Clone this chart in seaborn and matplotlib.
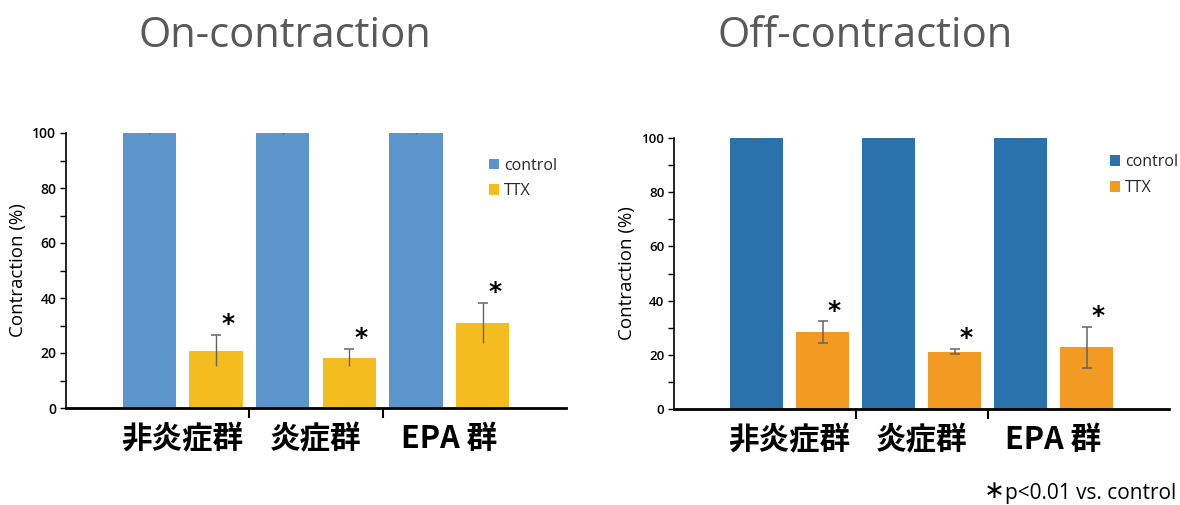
import numpy as np
import pandas as pd
import matplotlib
matplotlib.use("Agg")
import matplotlib.pyplot as plt
from matplotlib.patches import Patch
from matplotlib.ticker import MultipleLocator, FixedLocator
import seaborn as sns

# ---- data -------------------------------------------------------------
groups = ["非炎症群", "炎症群", "EPA 群"]
conditions = ["control", "TTX"]

on_control = [100.0, 100.0, 100.0]
on_control_err = [0.3, 0.3, 0.3]
on_ttx = [20.8, 18.3, 31.0]
on_ttx_err = [5.6, 3.0, 7.2]

off_control = [100.0, 100.0, 100.0]
off_control_err = [0.2, 0.2, 0.2]
off_ttx = [28.3, 21.2, 22.7]
off_ttx_err = [4.0, 1.0, 7.7]

titles = ["On-contraction", "Off-contraction"]
ylabel = "Contraction (%)"
footnote = "p<0.01 vs. control"

on_palette = ["#5B95CB", "#F5BC1F"]
off_palette = ["#2A72AC", "#F39A22"]

# ---- style ------------------------------------------------------------
sns.set_theme(style="white")
plt.rcParams["font.family"] = ["Open Sans", "Noto Sans CJK JP", "DejaVu Sans"]
CJK = ["Noto Sans CJK JP", "DejaVu Sans"]


def make_frame(ctrl, ttx):
    rows = []
    for g, c, t in zip(groups, ctrl, ttx):
        rows.append({"group": g, "condition": "control", "value": c})
        rows.append({"group": g, "condition": "TTX", "value": t})
    return pd.DataFrame(rows)


def draw_panel(ax, ctrl, ctrl_err, ttx, ttx_err, palette, tick_fs,
               lower_caps, legend_anchor):
    df = make_frame(ctrl, ttx)
    sns.barplot(data=df, x="group", y="value", hue="condition",
                order=groups, hue_order=conditions, palette=palette,
                width=1.0, gap=0.2, errorbar=None, saturation=1,
                legend=False, linewidth=0, ax=ax)

    # error bars on top of the bars
    ecol = "#646464"
    for cont, vals, errs in zip(ax.containers, [ctrl, ttx], [ctrl_err, ttx_err]):
        xs = np.array([b.get_x() + b.get_width() / 2 for b in cont])
        vals = np.asarray(vals)
        errs = np.asarray(errs)
        if lower_caps:
            ax.errorbar(xs, vals, yerr=errs, fmt="none", ecolor=ecol,
                        elinewidth=1.1, capsize=3.5, capthick=1.1, zorder=4)
        else:
            ax.errorbar(xs, vals, yerr=errs, fmt="none", ecolor=ecol,
                        elinewidth=1.0, capsize=0, zorder=4)
            ax.plot(xs, vals + errs, ls="none", marker="_", markersize=7,
                    markeredgewidth=1.1, color=ecol, zorder=4)

    # significance stars above the TTX bars
    for b, v, e in zip(ax.containers[1], ttx, ttx_err):
        cx = b.get_x() + b.get_width() / 2
        ax.text(cx + 0.09, v + e + 4.0, "*", ha="center", va="center",
                fontsize=18, fontweight="bold", color="black",
                family="DejaVu Sans")

    ax.set_xlim(-0.875, 2.875)
    ax.set_ylim(0, 100)
    ax.set_xlabel("")
    ax.set_ylabel(ylabel, fontsize=13.5, color="black", labelpad=4)

    ax.yaxis.set_major_locator(MultipleLocator(20))
    ax.yaxis.set_minor_locator(MultipleLocator(10))
    ax.tick_params(axis="y", which="both", left=True, length=4, width=1,
                   color="black", labelsize=tick_fs, labelcolor="black", pad=3)
    for lbl in ax.get_yticklabels():
        lbl.set_fontweight("semibold")
    ax.tick_params(axis="x", which="major", length=0, pad=11)
    ax.xaxis.set_minor_locator(FixedLocator([0.5, 1.5]))
    ax.tick_params(axis="x", which="minor", bottom=True, length=7, width=1.5,
                   color="black")
    for lbl in ax.get_xticklabels():
        lbl.set_fontfamily(CJK)
        lbl.set_fontsize(22)
        lbl.set_fontweight("bold")
        lbl.set_color("black")

    for side in ("top", "right"):
        ax.spines[side].set_visible(False)
    ax.spines["left"].set_color("black")
    ax.spines["left"].set_linewidth(1.2)
    ax.spines["bottom"].set_color("black")
    ax.spines["bottom"].set_linewidth(2.0)

    handles = [Patch(facecolor=palette[0], edgecolor="none"),
               Patch(facecolor=palette[1], edgecolor="none")]
    ax.legend(handles, conditions, loc="upper left", bbox_to_anchor=legend_anchor,
              frameon=False, fontsize=11.5, handlelength=0.65, handleheight=0.65,
              handletextpad=0.3, labelspacing=0.6, borderpad=0,
              borderaxespad=0)


fig = plt.figure(figsize=(11.8, 5.05), dpi=100)
ax_on = fig.add_axes([66 / 1180, 1 - 408 / 505, 500 / 1180, 275 / 505])
ax_off = fig.add_axes([674 / 1180, 1 - 409 / 505, 495 / 1180, 271 / 505])

draw_panel(ax_on, on_control, on_control_err, on_ttx, on_ttx_err, on_palette,
           10, False, (0.846, 0.91))
draw_panel(ax_off, off_control, off_control_err, off_ttx, off_ttx_err,
           off_palette, 9.5, True, (0.881, 0.94))

fig.text(285 / 1180, 1 - 36 / 505, titles[0], ha="center", va="center",
         fontsize=30, color="#595959")
fig.text(865 / 1180, 1 - 36 / 505, titles[1], ha="center", va="center",
         fontsize=30, color="#595959")

# footnote: a heavy star followed by the significance note
fig.text(1003 / 1180, 1 - 491 / 505, r"$\ast$", ha="right", va="center",
         fontsize=18, color="black")
fig.text(1005 / 1180, 1 - 494 / 505, footnote, ha="left", va="center",
         fontsize=15, color="black")

fig.savefig("out.png", dpi=100)
